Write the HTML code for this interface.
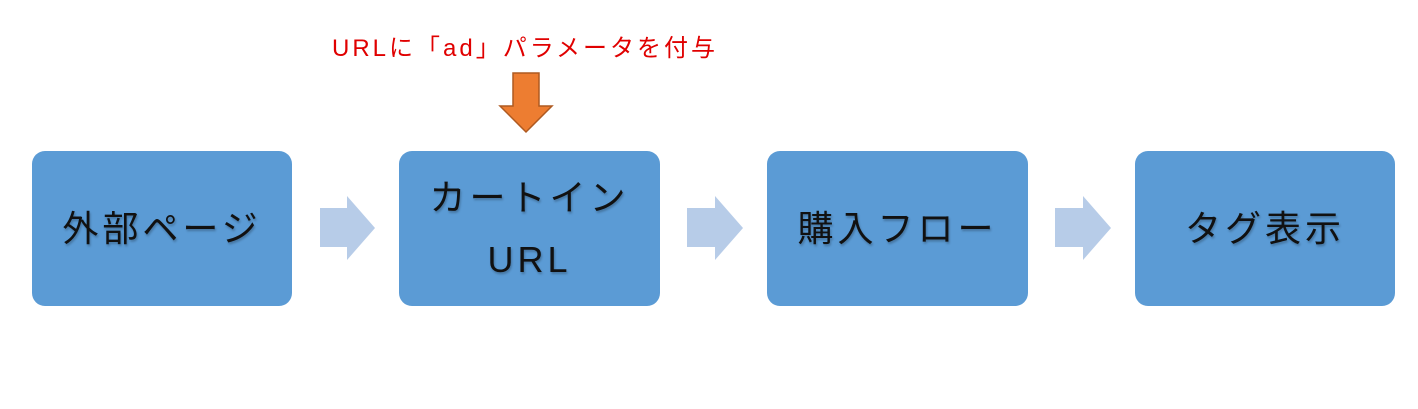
<!DOCTYPE html>
<html><head><meta charset="utf-8"><style>
body{margin:0;width:1418px;height:409px;background:#fff;position:relative;overflow:hidden;font-family:"Liberation Sans","Noto Sans CJK JP",sans-serif}
.b{position:absolute;top:151px;width:260px;height:155px;background:#5b9bd5;border-radius:13px;display:flex;align-items:center;justify-content:center;text-align:center;font-size:36px;line-height:62px;color:#111;letter-spacing:4px;text-shadow:1px 2px 2px rgba(0,0,0,.25)}
.t{position:absolute;left:0;width:1050px;top:31px;text-align:center;color:#e00000;font-size:24px;line-height:36px;letter-spacing:3px}
</style></head><body>
<div class="t">URLに「ad」パラメータを付与</div>
<div class="b" style="left:32px">外部ページ</div>
<div class="b" style="left:399px;width:261px">カートイン<br>URL</div>
<div class="b" style="left:767px;width:261px">購入フロー</div>
<div class="b" style="left:1135px">タグ表示</div>
<svg width="1418" height="409" style="position:absolute;left:0;top:0">
<g fill="#b7cce8">
<polygon points="320,208 347,208 347,196 375,228 347,260 347,247 320,247"/>
<polygon points="687,208 715,208 715,196 743,228 715,260 715,247 687,247"/>
<polygon points="1055,208 1083,208 1083,196 1111,228 1083,260 1083,247 1055,247"/>
</g>
<polygon points="513,73 539,73 539,106 552,106 526,132 500,106 513,106" fill="#ed7d31" stroke="#ae5a21" stroke-width="1.5"/>
</svg>
</body></html>
